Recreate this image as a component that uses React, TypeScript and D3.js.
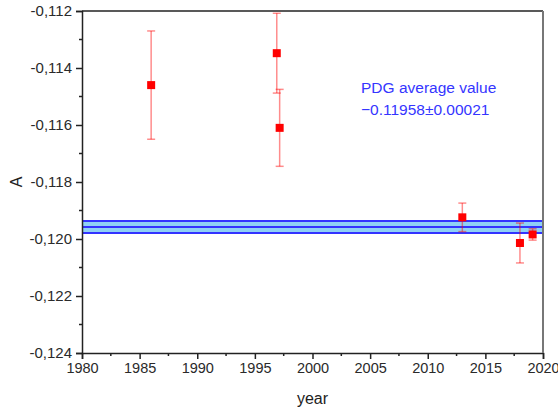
import React, { useEffect, useRef } from "react";
import * as d3 from "d3";

const years = [1986, 1996.9, 1997.15, 2013, 2018, 2019.1];
const values = [-0.1146, -0.11348, -0.1161, -0.11924, -0.12014, -0.11984];
const errors = [0.0019, 0.0014, 0.00135, 0.0005, 0.0007, 0.0002];
const pdgValue = -0.11958;
const pdgError = 0.00021;
const yTicks = [-0.124, -0.122, -0.12, -0.118, -0.116, -0.114, -0.112];
const xTicks = [1980, 1985, 1990, 1995, 2000, 2005, 2010, 2015, 2020];
const annotation = ["PDG average value", "\u22120.11958\u00b10.00021"];

export default function App() {
  const ref = useRef<SVGSVGElement>(null);
  useEffect(() => {
    const svg = d3.select(ref.current);
    svg.selectAll("*").remove();
    const L = 82, R = 543, T = 11, B = 353;
    const x = d3.scaleLinear().domain([1980, 2020]).range([L, R]);
    const y = d3.scaleLinear().domain([-0.124, -0.112]).range([B, T]);
    const font = "'Liberation Sans', Arial, sans-serif";

    // PDG band
    svg.append("rect")
      .attr("x", L).attr("width", R - L)
      .attr("y", y(pdgValue + pdgError)).attr("height", y(pdgValue - pdgError) - y(pdgValue + pdgError))
      .attr("fill", "#8fd0f5");
    [pdgValue + pdgError, pdgValue, pdgValue - pdgError].forEach((v) => {
      svg.append("line").attr("x1", L).attr("x2", R).attr("y1", y(v)).attr("y2", y(v))
        .attr("stroke", "#3333ff").attr("stroke-width", 2);
    });

    // y axis
    const yAxis = svg.append("g").attr("transform", `translate(${L},0)`)
      .call(d3.axisLeft(y).tickValues(yTicks).tickSize(6).tickPadding(4)
        .tickFormat((d: any) => (+d).toFixed(3).replace(".", ",")));
    yAxis.selectAll("text").attr("font-size", 15).attr("font-family", font).attr("fill", "#2a2a2a");
    yAxis.select(".domain").attr("stroke", "#222").attr("stroke-width", 1.5);
    yAxis.selectAll(".tick line").attr("stroke", "#222").attr("stroke-width", 1.5);
    const yMinor = d3.range(0, 6).map((i) => -0.123 + i * 0.002);
    svg.append("g").selectAll("line").data(yMinor).join("line")
      .attr("x1", L - 3).attr("x2", L).attr("y1", (d) => y(d)).attr("y2", (d) => y(d))
      .attr("stroke", "#222").attr("stroke-width", 1.5);

    // x axis
    const xAxis = svg.append("g").attr("transform", `translate(0,${B})`)
      .call(d3.axisBottom(x).tickValues(xTicks).tickSize(6).tickPadding(4).tickFormat(d3.format("d")));
    xAxis.selectAll("text").attr("font-size", 14.5).attr("font-family", font).attr("fill", "#2a2a2a");
    xAxis.select(".domain").attr("stroke", "#222").attr("stroke-width", 1.5);
    xAxis.selectAll(".tick line").attr("stroke", "#222").attr("stroke-width", 1.5);
    const xMinor = d3.range(0, 8).map((i) => 1982.5 + i * 5);
    svg.append("g").selectAll("line").data(xMinor).join("line")
      .attr("x1", (d) => x(d)).attr("x2", (d) => x(d)).attr("y1", B).attr("y2", B + 3)
      .attr("stroke", "#222").attr("stroke-width", 1.5);

    // frame top & right
    svg.append("line").attr("x1", L).attr("x2", R).attr("y1", T).attr("y2", T)
      .attr("stroke", "#222").attr("stroke-width", 1.5);
    svg.append("line").attr("x1", R).attr("x2", R).attr("y1", T).attr("y2", B)
      .attr("stroke", "#777").attr("stroke-width", 2);

    // error bars
    const pts = years.map((yr, i) => ({ yr, v: values[i], e: errors[i] }));
    const eb = svg.append("g").attr("stroke", "rgba(255,0,0,0.45)").attr("stroke-width", 1.5);
    pts.forEach((p) => {
      const cx = x(p.yr);
      eb.append("line").attr("x1", cx).attr("x2", cx).attr("y1", y(p.v + p.e)).attr("y2", y(p.v - p.e));
      [p.v + p.e, p.v - p.e].forEach((v) => {
        eb.append("line").attr("x1", cx - 4).attr("x2", cx + 4).attr("y1", y(v)).attr("y2", y(v));
      });
    });
    svg.append("g").selectAll("rect").data(pts).join("rect")
      .attr("x", (p) => x(p.yr) - 4).attr("y", (p) => y(p.v) - 4)
      .attr("width", 8).attr("height", 8).attr("fill", "#ff0000");

    // annotation
    annotation.forEach((t, i) => {
      svg.append("text").attr("x", 361).attr("y", 93 + i * 22).text(t)
        .attr("font-size", 15.5).attr("font-family", font).attr("fill", "#3535ff");
    });

    // axis labels
    svg.append("text").attr("x", (L + R) / 2).attr("y", 404).attr("text-anchor", "middle")
      .attr("font-size", 16).attr("font-family", font).attr("fill", "#222").text("year");
    svg.append("text").attr("transform", `translate(22,182) rotate(-90)`).attr("text-anchor", "middle")
      .attr("font-size", 16).attr("font-family", font).attr("fill", "#222").text("A");
  }, []);
  return (
    <svg ref={ref} width={558} height={410}
      style={{ position: "absolute", left: 0, top: 0, background: "#fff" }} />
  );
}
